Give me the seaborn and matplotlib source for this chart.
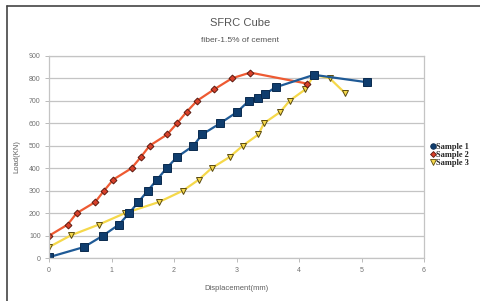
import pandas as pd
import numpy as np
import matplotlib
matplotlib.use("Agg")
import matplotlib.pyplot as plt
import seaborn as sns
from matplotlib.lines import Line2D

s1_x = [0, 0.56, 0.86, 1.12, 1.28, 1.43, 1.58, 1.73, 1.88, 2.05, 2.31, 2.45, 2.74, 3.01, 3.2, 3.34, 3.45, 3.63, 4.24, 5.09]
s1_y = [5, 50, 100, 150, 200, 250, 300, 350, 400, 450, 500, 550, 600, 650, 700, 713, 729, 760, 815, 782]

s2_x = [0, 0.30, 0.44, 0.74, 0.88, 1.03, 1.32, 1.47, 1.61, 1.89, 2.05, 2.2, 2.37, 2.64, 2.93, 3.22, 4.13]
s2_y = [100, 150, 200, 250, 300, 350, 400, 450, 500, 550, 600, 650, 700, 750, 800, 825, 776]

s3_x = [0, 0.35, 0.80, 1.21, 1.76, 2.14, 2.40, 2.60, 2.89, 3.10, 3.35, 3.44, 3.70, 3.85, 4.10, 4.24, 4.49, 4.74]
s3_y = [50, 102, 150, 200, 250, 300, 350, 400, 450, 500, 550, 600, 650, 700, 750, 815, 800, 733]

names = ["Sample 1", "Sample 2", "Sample 3"]

df = pd.concat([
    pd.DataFrame({"x": s1_x, "y": s1_y, "s": names[0]}),
    pd.DataFrame({"x": s2_x, "y": s2_y, "s": names[1]}),
    pd.DataFrame({"x": s3_x, "y": s3_y, "s": names[2]}),
])

sns.set_style("white")
plt.rcParams["font.family"] = ["Liberation Sans", "DejaVu Sans"]

fig = plt.figure(figsize=(4.81, 3.01), dpi=100)
ax = fig.add_axes([49 / 481, 1 - 258.3 / 301, 375 / 481, 202.6 / 301])

styles = {
    "Sample 1": dict(color="#1f5a96", marker="s", ms=5.5, mfc="#0f3d6e", mec="#0a2a4e"),
    "Sample 2": dict(color="#ee5a32", marker="D", ms=3.5, mfc="#d8402a", mec="#5a1a10"),
    "Sample 3": dict(color="#f5d84a", marker="v", ms=5, mfc="#f5d84a", mec="#5a4a10"),
}
# yellow first, then red, blue on top
for name in ["Sample 3", "Sample 2", "Sample 1"]:
    st = styles[name]
    sub = df[df["s"] == name]
    sns.lineplot(data=sub, x="x", y="y", ax=ax, sort=False, color=st["color"],
                 lw=1.6, marker=st["marker"], markersize=st["ms"],
                 markerfacecolor=st["mfc"], markeredgecolor=st["mec"],
                 markeredgewidth=0.7, legend=False)

ax.set_xlim(0, 6)
ax.set_ylim(0, 900)
ax.set_xticks(range(0, 7))
ax.set_yticks(range(0, 901, 100))
ax.yaxis.grid(True, color="#c4c4c4", lw=0.9)
ax.xaxis.grid(False)
for sp in ax.spines.values():
    sp.set_visible(True)
    sp.set_color("#c4c4c4")
    sp.set_linewidth(0.9)
ax.tick_params(axis="both", labelsize=5, colors="#b0b0b0", labelcolor="#707070",
               length=3, width=0.6, direction="out", pad=3)
ax.tick_params(axis="x", bottom=True)
ax.tick_params(axis="y", left=True)
ax.set_xlabel("Displacement(mm)", fontsize=5.5, color="#606060", labelpad=8)
ax.set_ylabel("Load(KN)", fontsize=5.5, color="#606060", labelpad=6)

fig.text(0.5, 1 - 23 / 301, "SFRC Cube", ha="center", va="center", fontsize=8, color="#555555")
fig.text(0.5, 1 - 41 / 301, "fiber-1.5% of cement", ha="center", va="center", fontsize=6, color="#555555")

handles = [Line2D([], [], ls="none", marker=m, ms=s, mfc=fc, mec=ec, mew=0.6)
           for m, s, fc, ec in [("o", 4, "#0f3d6e", "#0a2a4e"),
                                ("D", 3, "#d8402a", "#5a1a10"),
                                ("v", 4, "#f5d84a", "#5a4a10")]]
leg = fig.legend(handles, names, loc="center left", bbox_to_anchor=(431 / 481, 1 - 155 / 301),
                 frameon=False, handlelength=0.5, handletextpad=0.15, labelspacing=0.0,
                 borderpad=0, borderaxespad=0,
                 prop={"family": "Liberation Serif", "weight": "bold", "size": 6})

# page border
fig.add_artist(Line2D([7.5 / 481, 7.5 / 481], [0, 1 - 6 / 301], color="#444444", lw=1.2))
fig.add_artist(Line2D([7.5 / 481, 1], [1 - 6 / 301, 1 - 6 / 301], color="#444444", lw=1.2))

fig.savefig("out.png", dpi=100)
